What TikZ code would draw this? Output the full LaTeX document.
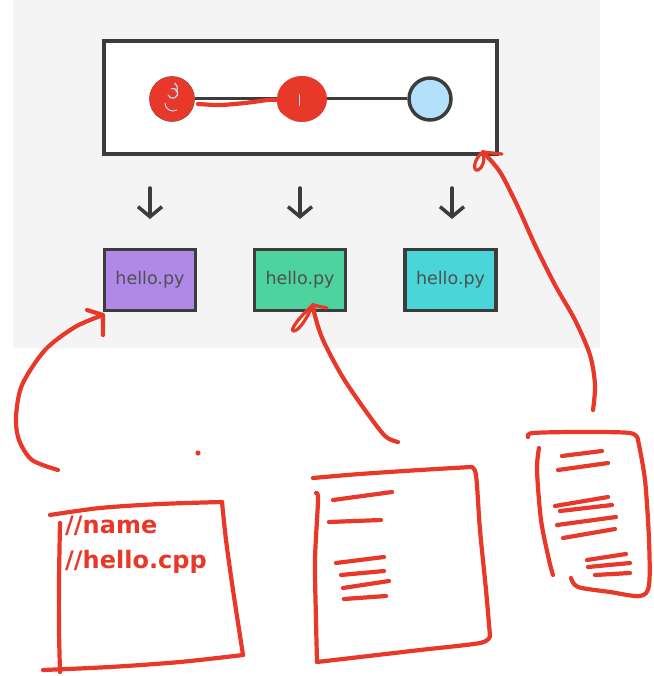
\documentclass[tikz,border=0pt]{standalone}
\usepackage{fontspec}
\setmainfont{DejaVu Sans}
\usetikzlibrary{arrows.meta}
\definecolor{ink}{HTML}{3C3C3C}
\definecolor{panel}{HTML}{F4F4F4}
\definecolor{pen}{HTML}{E8382A}
\definecolor{commit}{HTML}{B3E0FA}
\definecolor{fpurple}{HTML}{B088E8}
\definecolor{fgreen}{HTML}{4CD39E}
\definecolor{fcyan}{HTML}{4AD6D9}
\tikzset{
  frame/.style={draw=ink, line width=4pt, fill=white, minimum width=393pt, minimum height=113pt, inner sep=0pt},
  commitdot/.style={circle, draw=ink, line width=3.5pt, fill=commit, minimum size=42pt, inner sep=0pt},
  filebox/.style={draw=ink, line width=3.5pt, minimum width=91pt, minimum height=61pt, inner sep=0pt,
    font=\fontsize{17.5}{18}\selectfont, text=ink!90},
  downarrow/.style={draw=ink, line width=3.5pt, line cap=round, -{Straight Barb[length=10pt,width=24pt,line width=3.5pt]}},
  redpen/.style={draw=pen, line width=4.2pt, line cap=round, line join=round},
  thinpen/.style={draw=pen, line width=3.2pt, line cap=round, line join=round},
  handtext/.style={text=pen, anchor=west, inner sep=0pt, font=\bfseries\fontsize{24}{24}\selectfont}
}
\begin{document}
\begin{tikzpicture}[x=1pt,y=-1pt]
\useasboundingbox (0,0) rectangle (653,676);
% grey panel
\fill[panel] (13,0) rectangle (600,348);

% history frame with three commits
\node[frame] (top) at (300.5,97.5) {};
\node[commitdot] (c1) at (172,99) {};
\node[commitdot] (c2) at (302,99) {};
\node[commitdot] (c3) at (430,99) {};
\draw[ink, line width=3pt] (c1) -- (c2) -- (c3);

% scribbled-out commits
\fill[pen] (172,99) circle (22.5pt);
\draw[commit, line width=1.2pt] (168,95) arc (200:470:5pt);
\draw[commit, line width=1.2pt] (176,92) arc (-40:60:6pt);
\draw[commit, line width=1pt] (165,103) arc (180:300:8pt);
\fill[pen] (302,99) ellipse (25pt and 23pt);
\draw[thinpen, line width=2.4pt] (318,92) .. controls (332,108) and (300,128) .. (282,112) .. controls (270,98) and (290,78) .. (310,84);
\draw[commit, line width=1pt] (299,94) -- (299,106);
\draw[redpen] plot[smooth] coordinates {(198,104) (220,105) (245,103) (268,100) (280,100)};

% checkout arrows
\coordinate (a1s) at (150,188);
\coordinate (a1e) at (150,219);
\coordinate (a2s) at (300,188);
\coordinate (a2e) at (300,219);
\coordinate (a3s) at (452,188);
\coordinate (a3e) at (452,219);
\draw[downarrow] (a1s) -- (a1e);
\draw[downarrow] (a2s) -- (a2e);
\draw[downarrow] (a3s) -- (a3e);

% working copies
\node[filebox, fill=fpurple] (b1) at (150,280) {hello.py};
\node[filebox, fill=fgreen] (b2) at (300,280) {hello.py};
\node[filebox, fill=fcyan] (b3) at (450.5,280) {hello.py};

% hand-drawn arrow to the first file
\draw[redpen] plot[smooth] coordinates {(58,470) (32,460) (19,440) (16,417) (22,385) (45,350) (75,327) (103,315)};
\draw[redpen] (87,310) -- (103,315) -- (103,335);
\fill[pen] (198,453) circle (2.6pt);

% hand-drawn arrow to the second file
\draw[redpen] plot[smooth] coordinates {(398,442) (385,436) (365,410) (342,376) (323,340) (315,316) (313,305)};
\draw[thinpen] (313,305) .. controls (300,316) and (288,332) .. (294,331) .. controls (300,330) and (308,316) .. (313,305) -- (327,308);

% hand-drawn arrow to the history frame
\draw[redpen] plot[smooth] coordinates {(593,410) (595,385) (590,355) (575,320) (555,285) (535,245) (517,205) (500,172) (483,152)};
\draw[thinpen] (483,152) .. controls (474,158) and (472,172) .. (478,170) .. controls (483,168) and (485,160) .. (483,152) -- (502,154);

% left note
\draw[redpen] plot[smooth] coordinates {(50,515) (100,508) (160,504) (222,502)};
\draw[redpen] plot[smooth] coordinates {(222,502) (226,540) (233,590) (243,655)};
\draw[redpen] plot[smooth] coordinates {(243,655) (180,662) (110,667) (43,670)};
\draw[redpen] plot[smooth] coordinates {(60,523) (59,580) (59,630) (60,672)};
\node[handtext] (n1) at (65,526) {//name};
\node[handtext] (n2) at (65,562) {//hello.cpp};

% middle note
\draw[redpen] plot[smooth] coordinates {(313,478) (360,474) (420,470) (471,467)};
\draw[redpen] plot[smooth] coordinates {(471,467) (476,475) (480,530) (486,590) (490,636)};
\draw[redpen] plot[smooth] coordinates {(490,636) (480,643) (420,650) (360,657) (317,662)};
\draw[redpen] plot[smooth] coordinates {(316,493) (318,500) (315,560) (316,620) (317,662)};
\draw[redpen] (333,500) -- (392,492);
\draw[redpen] (329,522) -- (381,520);
\draw[redpen] (336,563) -- (384,557);
\draw[redpen] (341,575) -- (384,571);
\draw[redpen] (343,588) -- (389,581);
\draw[redpen] (344,599) -- (386,596);

% right note
\draw[redpen] plot[smooth] coordinates {(528,437) (533,433) (580,432) (630,433) (638,440)};
\draw[redpen] plot[smooth] coordinates {(638,440) (645,480) (649,540) (649,585) (640,596) (610,592) (578,587) (571,578)};
\draw[redpen] plot[smooth] coordinates {(539,448) (537,470) (541,520) (549,560) (553,575)};
\draw[redpen] (562,456) -- (602,451);
\draw[redpen] (558,470) -- (608,463);
\draw[redpen] (555,506) -- (608,497);
\draw[redpen] (560,511) -- (612,505);
\draw[redpen] (557,525) -- (616,517);
\draw[redpen] (563,538) -- (615,529);
\draw[redpen] (587,560) -- (626,554);
\draw[redpen] (588,567) -- (630,563);
\draw[redpen] (595,575) -- (630,573);
\end{tikzpicture}
\end{document}
